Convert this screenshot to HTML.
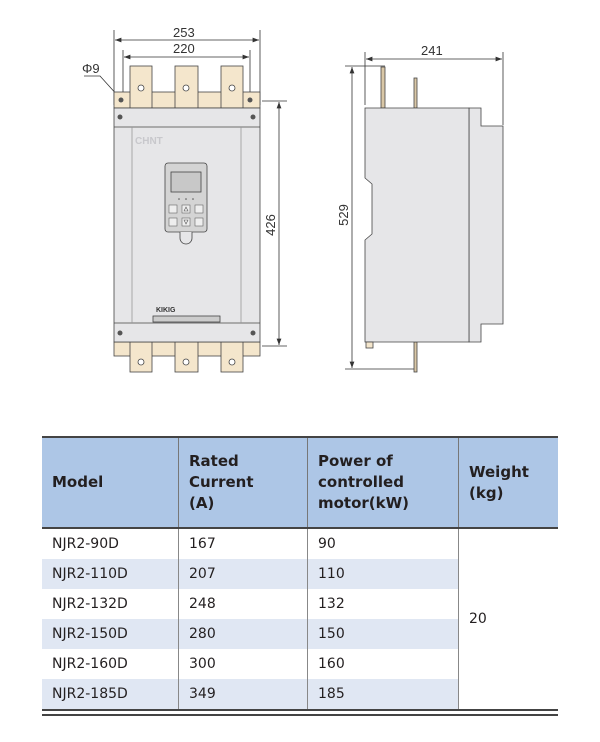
<!DOCTYPE html>
<html><head><style>
body{margin:0;background:#fff;width:600px;height:742px;position:relative;font-family:"Liberation Sans",sans-serif;overflow:hidden}
table{position:absolute;left:42px;top:436px;width:516px;border-collapse:collapse;font-family:"DejaVu Sans","Liberation Sans",sans-serif;font-size:14px;color:#231f20}
td{padding:0 0 0 10px;height:30px;border-left:1px solid #888}
td:first-child{border-left:none}
th{background:#adc6e6;text-align:left;font-weight:bold;font-size:15px;padding:0 0 0 10px;height:89px;border-left:1px solid #777;line-height:21px}
th:first-child{border-left:none}
thead tr{border-top:2px solid #444;border-bottom:2px solid #444}
.s td{background:#e0e7f3}
.s td.w{background:#fff}
</style></head><body>
<svg width="600" height="420" style="position:absolute;left:0;top:0" font-family="Liberation Sans,sans-serif">
<defs><marker id="a" markerWidth="8" markerHeight="6" refX="8" refY="3" orient="auto-start-reverse"><path d="M0,0L8,3L0,6z" fill="#333"/></marker></defs>
<g stroke="#333" stroke-width="0.8" fill="none">
<line x1="114" y1="30" x2="114" y2="105"/><line x1="260" y1="30" x2="260" y2="105"/>
<line x1="123" y1="50" x2="123" y2="100"/><line x1="250" y1="50" x2="250" y2="100"/>
<line x1="115" y1="40" x2="259" y2="40" marker-start="url(#a)" marker-end="url(#a)"/>
<line x1="124" y1="57" x2="249" y2="57" marker-start="url(#a)" marker-end="url(#a)"/>
<line x1="262" y1="101" x2="287" y2="101"/><line x1="262" y1="346" x2="287" y2="346"/>
<line x1="279" y1="102" x2="279" y2="345" marker-start="url(#a)" marker-end="url(#a)"/>
<polyline points="84,76 100,76 138,118"/>
</g>
<text x="82" y="73" font-size="13" fill="#333">Φ9</text>
<text x="173" y="37" font-size="13" fill="#333">253</text>
<text x="173" y="53" font-size="13" fill="#333">220</text>
<text transform="translate(275,225) rotate(-90)" text-anchor="middle" font-size="13" fill="#333">426</text>
<g stroke="#444" stroke-width="0.8">
<rect x="114" y="92" width="146" height="16" fill="#f4e6cc"/>
<rect x="130" y="66" width="22" height="42" fill="#f4e6cc"/><rect x="175" y="66" width="23" height="42" fill="#f4e6cc"/><rect x="221" y="66" width="22" height="42" fill="#f4e6cc"/>
<rect x="114" y="342" width="146" height="14" fill="#f4e6cc"/>
<rect x="130" y="342" width="22" height="30" fill="#f4e6cc"/><rect x="175" y="342" width="23" height="30" fill="#f4e6cc"/><rect x="221" y="342" width="22" height="30" fill="#f4e6cc"/>
<rect x="114" y="108" width="146" height="234" fill="#e6e6e8"/>
<line x1="114" y1="127" x2="260" y2="127"/><line x1="114" y1="323" x2="260" y2="323"/>
<line x1="132" y1="127" x2="132" y2="323" stroke="#999"/><line x1="241" y1="127" x2="241" y2="323" stroke="#999"/>
<rect x="165" y="163" width="42" height="69" rx="3" fill="#d4d4d4"/>
<rect x="171" y="172" width="30" height="20" fill="#c8c8c8"/>
<path d="M180,232 v6 a6,6 0 0 0 12,0 v-6" fill="#e6e6e8"/>
<rect x="153" y="316" width="67" height="6" fill="#ccc"/>
<g fill="#eee" stroke="#666" stroke-width="0.6">
<rect x="169" y="205" width="8" height="8"/><rect x="182" y="205" width="8" height="8"/><rect x="195" y="205" width="8" height="8"/>
<rect x="169" y="218" width="8" height="8"/><rect x="182" y="218" width="8" height="8"/><rect x="195" y="218" width="8" height="8"/>
</g>
</g>
<g fill="#555"><circle cx="179" cy="199" r="0.8"/><circle cx="186" cy="199" r="0.8"/><circle cx="193" cy="199" r="0.8"/></g>
<path d="M184,211 l2,-4 l2,4z M184,220 l2,4 l2,-4z" fill="none" stroke="#555" stroke-width="0.6"/>
<g fill="#fff" stroke="#444" stroke-width="0.8"><circle cx="141" cy="88" r="3"/><circle cx="186" cy="88" r="3"/><circle cx="232" cy="88" r="3"/><circle cx="141" cy="362" r="3"/><circle cx="186" cy="362" r="3"/><circle cx="232" cy="362" r="3"/></g>
<g fill="#555"><circle cx="120" cy="117" r="2.5"/><circle cx="253" cy="117" r="2.5"/><circle cx="120" cy="333" r="2.5"/><circle cx="253" cy="333" r="2.5"/><circle cx="121" cy="100" r="2.5"/><circle cx="250" cy="100" r="2.5"/></g>
<text x="135" y="144" font-size="10" font-weight="bold" fill="#c8c8cc">CHNT</text>
<text x="156" y="312" font-size="7" font-weight="bold" fill="#333">KIKIG</text>
<g stroke="#333" stroke-width="0.8" fill="none">
<line x1="365" y1="52" x2="365" y2="105"/><line x1="503" y1="52" x2="503" y2="125"/>
<line x1="366" y1="59" x2="502" y2="59" marker-start="url(#a)" marker-end="url(#a)"/>
<line x1="345" y1="66" x2="385" y2="66"/><line x1="345" y1="369" x2="415" y2="369"/>
<line x1="352" y1="67" x2="352" y2="368" marker-start="url(#a)" marker-end="url(#a)"/>
</g>
<text x="421" y="55" font-size="13" fill="#333">241</text>
<text transform="translate(348,215) rotate(-90)" text-anchor="middle" font-size="13" fill="#333">529</text>
<g stroke="#444" stroke-width="0.8">
<rect x="381" y="67" width="4" height="41" fill="#d9c7a6"/><rect x="414" y="78" width="3" height="30" fill="#d9c7a6"/><rect x="414" y="342" width="3" height="30" fill="#d9c7a6"/>
<path d="M469,108 h12 v18 h22 v198 h-22 v18 h-12z" fill="#e6e6e8"/>
<path d="M365,108 h104 v234 h-104 v-102 l7,-6 v-50 l-7,-6z" fill="#e6e6e8"/>
<rect x="366" y="342" width="7" height="6" fill="#f4e6cc"/>
</g>
</svg>
<table>
<thead><tr><th style="width:126px">Model</th><th style="width:118px">Rated<br>Current<br>(A)</th><th style="width:140px">Power of<br>controlled<br>motor(kW)</th><th>Weight<br>(kg)</th></tr></thead>
<tbody style="border-bottom:2px solid #444">
<tr><td>NJR2-90D</td><td>167</td><td>90</td><td class="w" rowspan="6">20</td></tr>
<tr class="s"><td>NJR2-110D</td><td>207</td><td>110</td></tr>
<tr><td>NJR2-132D</td><td>248</td><td>132</td></tr>
<tr class="s"><td>NJR2-150D</td><td>280</td><td>150</td></tr>
<tr><td>NJR2-160D</td><td>300</td><td>160</td></tr>
<tr class="s"><td>NJR2-185D</td><td>349</td><td>185</td></tr>
</tbody></table>
<div style="position:absolute;left:42px;top:714px;width:516px;height:2px;background:#444"></div>
</body></html>
